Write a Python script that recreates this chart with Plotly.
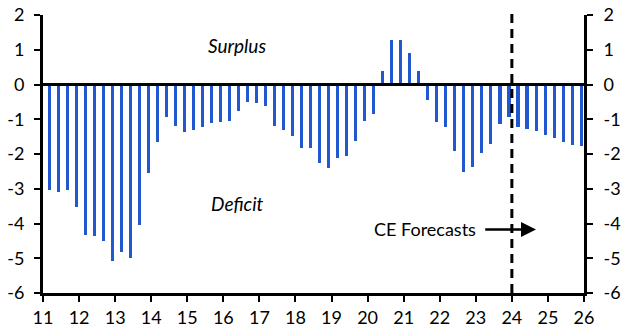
import plotly.graph_objects as go

years = [y for y in range(11, 26) for _ in range(4)]
quarter = [1, 2, 3, 4] * 15
balance = [
    -3.05, -3.10, -3.05, -3.53,
    -4.32, -4.35, -4.51, -5.08,
    -4.83, -5.00, -4.03, -2.55,
    -1.66, -0.94, -1.20, -1.37,
    -1.31, -1.23, -1.11, -1.08,
    -1.05, -0.77, -0.51, -0.54,
    -0.63, -1.20, -1.31, -1.48,
    -1.83, -1.83, -2.26, -2.41,
    -2.12, -2.06, -1.63, -1.06,
    -0.85, 0.40, 1.27, 1.27,
    0.92, 0.40, -0.45, -1.08,
    -1.23, -1.92, -2.52, -2.38,
    -1.98, -1.72, -1.14, -0.94,
    -1.23, -1.29, -1.34, -1.46,
    -1.54, -1.66, -1.75, -1.78,
]
x_ticks = list(range(11, 27))
y_ticks = [2, 1, 0, -1, -2, -3, -4, -5, -6]
forecast_start = 24

xpos = [y + (q - 1) / 4 + 0.17 for y, q in zip(years, quarter)]

FONT = "Lato"
fig = go.Figure()
fig.add_trace(go.Bar(x=xpos, y=balance, width=0.085, marker_color="#2158D0",
                     marker_line_width=0, showlegend=False))
fig.add_trace(go.Scatter(x=[11], y=[0], yaxis="y2", mode="markers",
                         marker_opacity=0, showlegend=False, hoverinfo="skip"))

axis_common = dict(showgrid=False, zeroline=False, showline=True, linecolor="black",
                   linewidth=3, ticks="outside", tickwidth=2, ticklen=6, tickcolor="black",
                   automargin=False,
                   tickfont=dict(family=FONT, size=18, color="black"))

fig.update_layout(
    width=632, height=336,
    margin=dict(l=43, r=48, t=15, b=43),
    plot_bgcolor="white", paper_bgcolor="white",
    bargap=0,
    xaxis=dict(range=[11, 26], tickvals=x_ticks, ticktext=[str(v) for v in x_ticks],
               **axis_common),
    yaxis=dict(range=[-6, 2], tickvals=y_ticks, ticktext=[str(v) for v in y_ticks],
               ticklabelstandoff=6, **axis_common),
    yaxis2=dict(range=[-6, 2], tickvals=y_ticks, ticktext=[str(v) for v in y_ticks],
                overlaying="y", side="right", ticklabelstandoff=7, **axis_common),
)

fig.add_shape(type="line", xref="x", yref="y", x0=11, x1=26, y0=0, y1=0,
              line=dict(color="black", width=3))
fig.add_shape(type="line", xref="x", yref="paper", x0=forecast_start, x1=forecast_start,
              y0=0, y1=1.018, line=dict(color="black", width=3, dash="9px,6px"))

fig.add_annotation(x=16.375, y=1.13, text="<i>Surplus</i>", showarrow=False,
                   font=dict(family=FONT, size=19, color="black"))
fig.add_annotation(x=16.4, y=-3.42, text="<i>Deficit</i>", showarrow=False,
                   font=dict(family=FONT, size=19, color="black"))
fig.add_annotation(x=23.06, y=-4.17, text="CE Forecasts", showarrow=False, xanchor="right",
                   font=dict(family=FONT, size=18, color="black"))
fig.add_annotation(x=24.67, y=-4.17, ax=23.22, ay=-4.17, axref="x", ayref="y",
                   text="", showarrow=True, arrowhead=2, arrowsize=1.2, arrowwidth=2.5,
                   arrowcolor="black")

fig.write_html("out.html")
